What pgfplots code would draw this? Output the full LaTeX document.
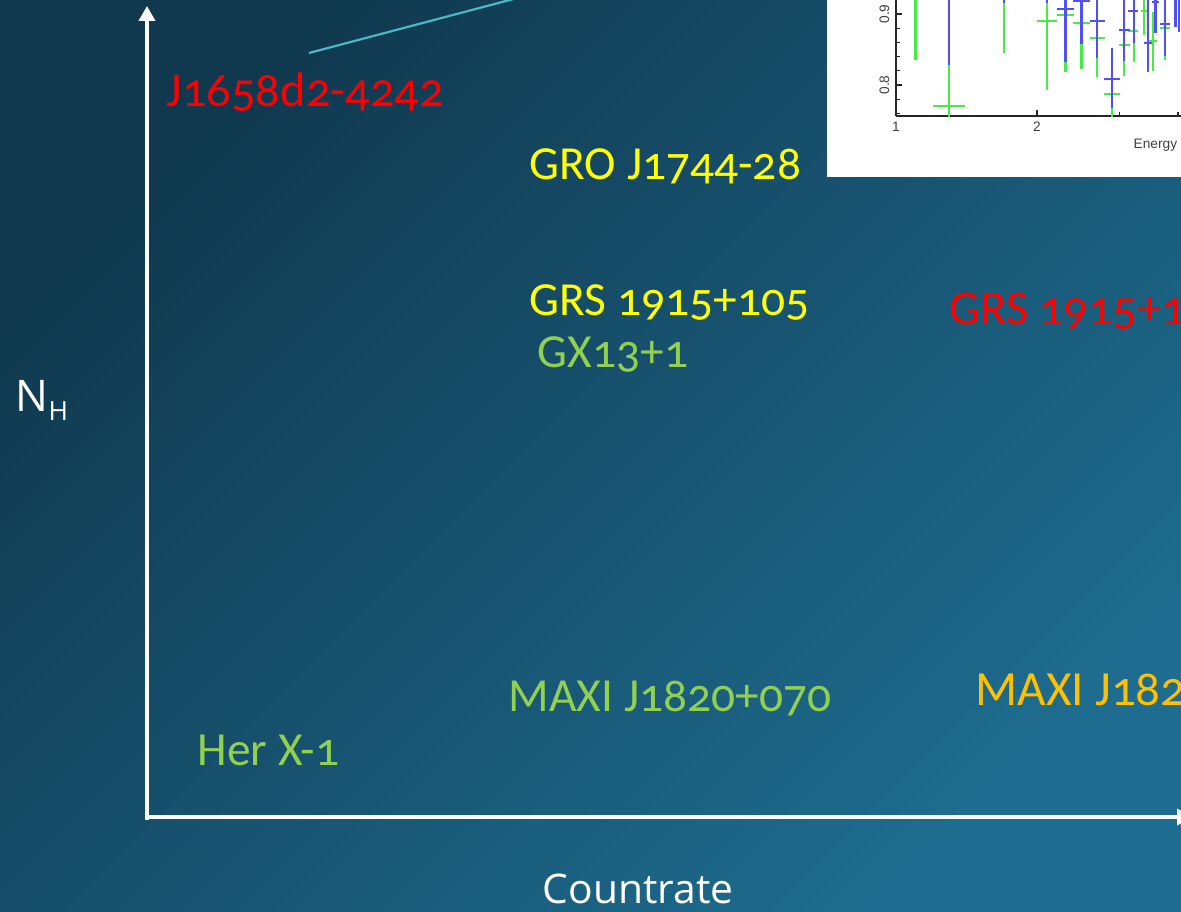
\documentclass[border=0pt]{standalone}
\usepackage{fontspec}
\usepackage{pgfplots}
\pgfplotsset{compat=1.18}
\usetikzlibrary{arrows.meta}
\setmainfont{Open Sans}
\newfontfamily\lblfont{Carlito}[Numbers=OldStyle]
\newfontfamily\plotfont{Liberation Sans}

\definecolor{bgA}{RGB}{16,56,78}
\definecolor{bgB}{RGB}{30,108,143}
\definecolor{srcRed}{RGB}{255,0,0}
\definecolor{srcYellow}{RGB}{255,255,0}
\definecolor{srcGreen}{RGB}{146,208,80}
\definecolor{srcOrange}{RGB}{255,192,0}
\definecolor{pointer}{RGB}{75,184,198}
\definecolor{errGreen}{RGB}{70,235,70}
\definecolor{errBlue}{RGB}{80,80,245}

% source labels: x, y of the left end of the baseline
\pgfplotstableread{
x   y   label
166 804 {J1658d2-4242}
949 586 {GRS 1915+105}
}\redsrc
\pgfplotstableread{
x   y   label
529 731 {GRO J1744-28}
529 595 {GRS 1915+105}
}\yellowsrc
\pgfplotstableread{
x   y   label
537 543 {GX13+1}
508 200 {MAXI J1820+070}
197 146 {Her X-1}
}\greensrc
\pgfplotstableread{
x   y   label
975 206 {MAXI J1820+070}
}\orangesrc

% spectral ratio, two instruments
\pgfplotstableread{
x    xm    xp    y      ym     yp
1.10 0.04  0.04  0.95   0.115  0.05
1.30 0.10  0.104 0.7704 0.03   0.058
1.70 0.05  0.05  0.95   0.105  0.05
2.10 0.10  0.105 0.8906 0.0976 0.06
2.30 0.095 0.10  0.8982 0.0799 0.05
2.49 0.10  0.107 0.8869 0.0644 0.05
2.69 0.093 0.106 0.8658 0.0545 0.06
2.89 0.107 0.12  0.7873 0.04   0.025
3.07 0.074 0.092 0.8568 0.0441 0.045
3.22 0.09  0.07  0.8765 0.0441 0.03
3.38 0.05  0.06  0.904  0.034  0.05
3.54 0.07  0.06  0.8624 0.0427 0.04
3.76 0.10  0.09  0.8803 0.0451 0.03
3.95 0.03  0.03  0.95   0.047  0.05
}\specA
\pgfplotstableread{
x    xm    xp    y      ym     yp
1.30 0.10  0.104 0.95   0.1218 0.05
1.70 0.05  0.05  0.95   0.035  0.05
2.10 0.10  0.105 0.95   0.035  0.05
2.30 0.095 0.10  0.907  0.0746 0.05
2.49 0.10  0.107 0.919  0.0613 0.05
2.69 0.093 0.106 0.8897 0.0517 0.05
2.89 0.107 0.12  0.8085 0.0409 0.0436
3.07 0.074 0.092 0.8775 0.0437 0.06
3.22 0.09  0.07  0.9046 0.0454 0.05
3.45 0.06  0.07  0.8596 0.0413 0.08
3.58 0.06  0.06  0.917  0.044  0.05
3.76 0.10  0.09  0.8859 0.0451 0.05
3.95 0.02  0.02  0.95   0.0683 0.05
4.02 0.02  0.02  0.95   0.0754 0.05
}\specB

\pgfplotsset{
  srclabels/.style 2 args={
    only marks, mark=*, mark size=0pt,
    mark options={draw=none, fill=none},
    nodes near coords, point meta=explicit symbolic,
    every node near coord/.append style={anchor=base west, inner sep=0pt,
      text=#1, text opacity=1, font=\lblfont\fontsize{#2}{15}\selectfont},
  },
  ratio/.style={
    mark=none, draw=none,
    error bars/.cd, x dir=both, x explicit, y dir=both, y explicit,
    error mark=none,
    error bar style={draw=#1, line width=0.22mm},
  },
}

\begin{document}
\begin{tikzpicture}
\path[use as bounding box] (0,0) rectangle (11.81,9.11);
\clip (0,0) rectangle (11.81,9.11);
\shade[top color=bgA, bottom color=bgB, shading angle=45] (0,0) rectangle (11.81,9.11);

\begin{axis}[
  at={(0,0)}, anchor=south west, scale only axis,
  width=11.81cm, height=9.11cm,
  xmin=0, xmax=1181, ymin=0, ymax=911,
  hide axis, clip=false,
]
% axes of the sketch
\addplot[white, line width=0.45mm, -{Triangle[width=1.6mm,length=1.5mm]}]
  coordinates {(147,91) (147,905)};
\addplot[white, line width=0.45mm, -{Triangle[width=1.6mm,length=1.5mm]}]
  coordinates {(145,94) (1192,94)};
% pointer towards the spectrum
\addplot[pointer, line width=0.22mm] coordinates {(309,858) (540,919)};

\addplot[srclabels={srcRed}{13.8}] table[x=x, y=y, meta=label] {\redsrc};
\addplot[srclabels={srcYellow}{13.5}] table[x=x, y=y, meta=label] {\yellowsrc};
\addplot[srclabels={srcGreen}{13.5}] table[x=x, y=y, meta=label] {\greensrc};
\addplot[srclabels={srcOrange}{14}] table[x=x, y=y, meta=label] {\orangesrc};
\end{axis}

\node[anchor=base west, inner sep=0pt, text=white, font=\fontsize{12.4}{14}\selectfont]
  at (0.15,4.993) {N\raisebox{-0.83mm}{\fontsize{7.5}{9}\selectfont H}};
\node[anchor=base west, inner sep=0pt, text=white, font=\fontsize{11.6}{13}\selectfont]
  at (5.42,0.08) {Countrate};

% spectrum inset
\fill[white] (8.27,7.34) rectangle (11.81,9.11);
\begin{axis}[
  at={(8.96cm,7.95cm)}, anchor=south west, scale only axis,
  width=2.85cm, height=1.16cm,
  xmode=log, xmin=1, xmax=4.06, ymin=0.7563, ymax=0.9197,
  axis x line*=bottom, axis y line*=left,
  axis line style={black!85, line width=0.16mm, -},
  xtick={1,2}, xticklabels={1,2}, minor xtick={3,4},
  ytick={0.8,0.9}, yticklabels={0.8,0.9},
  minor ytick={0.76,0.78,0.82,0.84,0.86,0.88,0.92},
  tick align=inside, major tick length=0.65mm, minor tick length=0.4mm,
  tick style={black!85, line width=0.12mm},
  ticklabel style={font=\plotfont\fontsize{3.9}{4.2}\selectfont, text=black!75},
  yticklabel style={rotate=90, anchor=south, inner sep=0.6mm},
  xticklabel style={inner sep=0.5mm},
]
\addplot[ratio=errGreen] table[x=x, y=y, x error minus=xm, x error plus=xp,
  y error minus=ym, y error plus=yp] {\specA};
\addplot[ratio=errBlue] table[x=x, y=y, x error minus=xm, x error plus=xp,
  y error minus=ym, y error plus=yp] {\specB};
\end{axis}
\node[anchor=base west, inner sep=0pt, text=black!75,
  font=\plotfont\fontsize{3.9}{4.2}\selectfont] at (11.33,7.63) {Energy (keV)};
\end{tikzpicture}
\end{document}
